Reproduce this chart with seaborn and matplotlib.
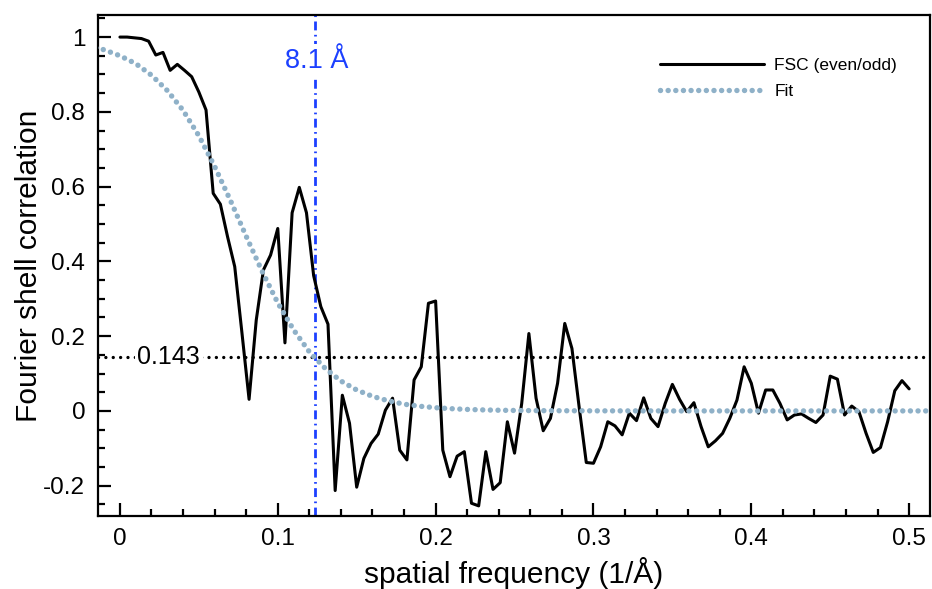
import numpy as np
import pandas as pd
import matplotlib
matplotlib.use("Agg")
import matplotlib.pyplot as plt
from matplotlib.ticker import MultipleLocator, FuncFormatter
import seaborn as sns

# ---------------- data ----------------
# FSC (even/odd), shells equally spaced from 0 to Nyquist (0.5 1/Å)
fsc = [1.000, 1.000, 0.998, 0.996, 0.989, 0.952, 0.959, 0.911, 0.927, 0.911,
       0.894, 0.853, 0.805, 0.582, 0.553, 0.466, 0.386, 0.210, 0.031, 0.243,
       0.377, 0.417, 0.488, 0.182, 0.530, 0.598, 0.530, 0.362, 0.279, 0.232,
       -0.213, 0.042, -0.033, -0.204, -0.127, -0.087, -0.062, 0.002, 0.034, -0.105,
       -0.131, 0.083, 0.118, 0.288, 0.294, -0.105, -0.176, -0.121, -0.109, -0.247,
       -0.254, -0.109, -0.210, -0.192, -0.029, -0.113, 0.020, 0.207, 0.034, -0.053,
       -0.020, 0.074, 0.234, 0.167, 0.011, -0.138, -0.140, -0.096, -0.029, -0.040,
       -0.064, -0.006, -0.026, 0.035, -0.020, -0.042, 0.020, 0.071, 0.031, -0.002,
       0.022, -0.042, -0.096, -0.080, -0.060, -0.020, 0.029, 0.118, 0.074, -0.006,
       0.056, 0.056, 0.020, -0.024, -0.011, -0.008, -0.020, -0.031, -0.011, 0.093,
       0.085, -0.011, 0.013, -0.002, -0.060, -0.111, -0.098, -0.029, 0.054, 0.081,
       0.059]
nyquist = 0.5
freq = np.linspace(0.0, nyquist, len(fsc))

# Fit curve
fit_x = [-0.02, -0.01, 0.00, 0.01, 0.02, 0.03, 0.04, 0.05, 0.06, 0.07,
         0.08, 0.09, 0.10, 0.11, 0.12, 0.13, 0.14, 0.15, 0.16, 0.17,
         0.18, 0.19, 0.20, 0.21, 0.22, 0.23, 0.24, 0.25, 0.27, 0.30,
         0.35, 0.40, 0.45, 0.52]
fit_y = [0.976, 0.966, 0.950, 0.929, 0.898, 0.857, 0.804, 0.736, 0.654, 0.563,
         0.467, 0.374, 0.289, 0.217, 0.158, 0.114, 0.080, 0.056, 0.039, 0.027,
         0.018, 0.0125, 0.0086, 0.0059, 0.0040, 0.0027, 0.0018, 0.0012, 0.0006, 0.0002,
         0.0, 0.0, 0.0, 0.0]

threshold = 0.143
resolution_A = 8.1

x_ticks = [0, 0.1, 0.2, 0.3, 0.4, 0.5]
y_ticks = [-0.2, 0, 0.2, 0.4, 0.6, 0.8, 1.0]

# ---------------- style ----------------
sns.set_style("ticks")
plt.rcParams['font.family'] = ['Liberation Sans', 'DejaVu Sans']
plt.rcParams['text.color'] = 'black'
plt.rcParams['axes.labelcolor'] = 'black'
plt.rcParams['xtick.color'] = 'black'
plt.rcParams['ytick.color'] = 'black'

fig = plt.figure(figsize=(9.32, 5.89), dpi=100)
ax = fig.add_axes([0.1048, 0.124, 0.998 - 0.1048, 0.9745 - 0.124])

blue = '#1c40ff'
fit_col = '#8fb1c8'

df_fsc = pd.DataFrame({'freq': freq, 'fsc': fsc})
df_fit = pd.DataFrame({'freq': fit_x, 'fit': fit_y})

sns.lineplot(data=df_fsc, x='freq', y='fsc', ax=ax, color='black',
             linewidth=2.2, label='FSC (even/odd)', zorder=3)
sns.lineplot(data=df_fit, x='freq', y='fit', ax=ax, color=fit_col,
             linewidth=3.9, linestyle=(0, (0.01, 1.4)),
             dash_capstyle='round', label='Fit', zorder=4)

# threshold line
ax.axhline(threshold, color='black', linewidth=2.4,
           linestyle=(0, (0.01, 2.2)), dash_capstyle='round', zorder=2)
ax.text(0.031, threshold, '0.143', fontsize=18, ha='center', va='center',
        color='black', zorder=5,
        bbox=dict(facecolor='white', edgecolor='none', pad=2))

# resolution line
xres = 1.0 / resolution_A
ax.axvline(xres, color=blue, linewidth=2.0,
           linestyle=(0, (3.2, 1.6, 0.6, 1.6)), zorder=2)
ax.text(xres + 0.001, 0.935, '8.1 Å', fontsize=19.5, ha='center', va='center',
        color=blue, zorder=5,
        bbox=dict(facecolor='white', edgecolor='none', pad=3))

# axes
ax.set_xlim(-0.0141, 0.5133)
ax.set_ylim(-0.281, 1.059)
ax.set_xticks(x_ticks)
ax.set_yticks(y_ticks)
ax.xaxis.set_minor_locator(MultipleLocator(0.02))
ax.yaxis.set_minor_locator(MultipleLocator(0.05))
fmt = FuncFormatter(lambda v, p: ('%g' % round(v, 3)).replace('\u2212', '-'))
ax.xaxis.set_major_formatter(fmt)
ax.yaxis.set_major_formatter(fmt)

ax.tick_params(which='both', direction='in', bottom=True, left=True,
               top=False, right=False, width=1.6, color='black')
ax.tick_params(which='major', length=9.5, labelsize=17.5, pad=9,
               labelcolor='black')
ax.tick_params(which='minor', length=5)

for s in ax.spines.values():
    s.set_visible(True)
    s.set_linewidth(1.6)
    s.set_color('black')

ax.set_xlabel('spatial frequency (1/Å)', fontsize=21.5, labelpad=5)
ax.set_ylabel('Fourier shell correlation', fontsize=21.5, labelpad=0)

leg = ax.legend(loc='upper right', bbox_to_anchor=(0.979, 0.945), frameon=False,
                fontsize=12.5, handlelength=6, handletextpad=0.6,
                labelspacing=0.6)
for t in leg.get_texts():
    t.set_color('black')

fig.savefig('out.png', dpi=100)
